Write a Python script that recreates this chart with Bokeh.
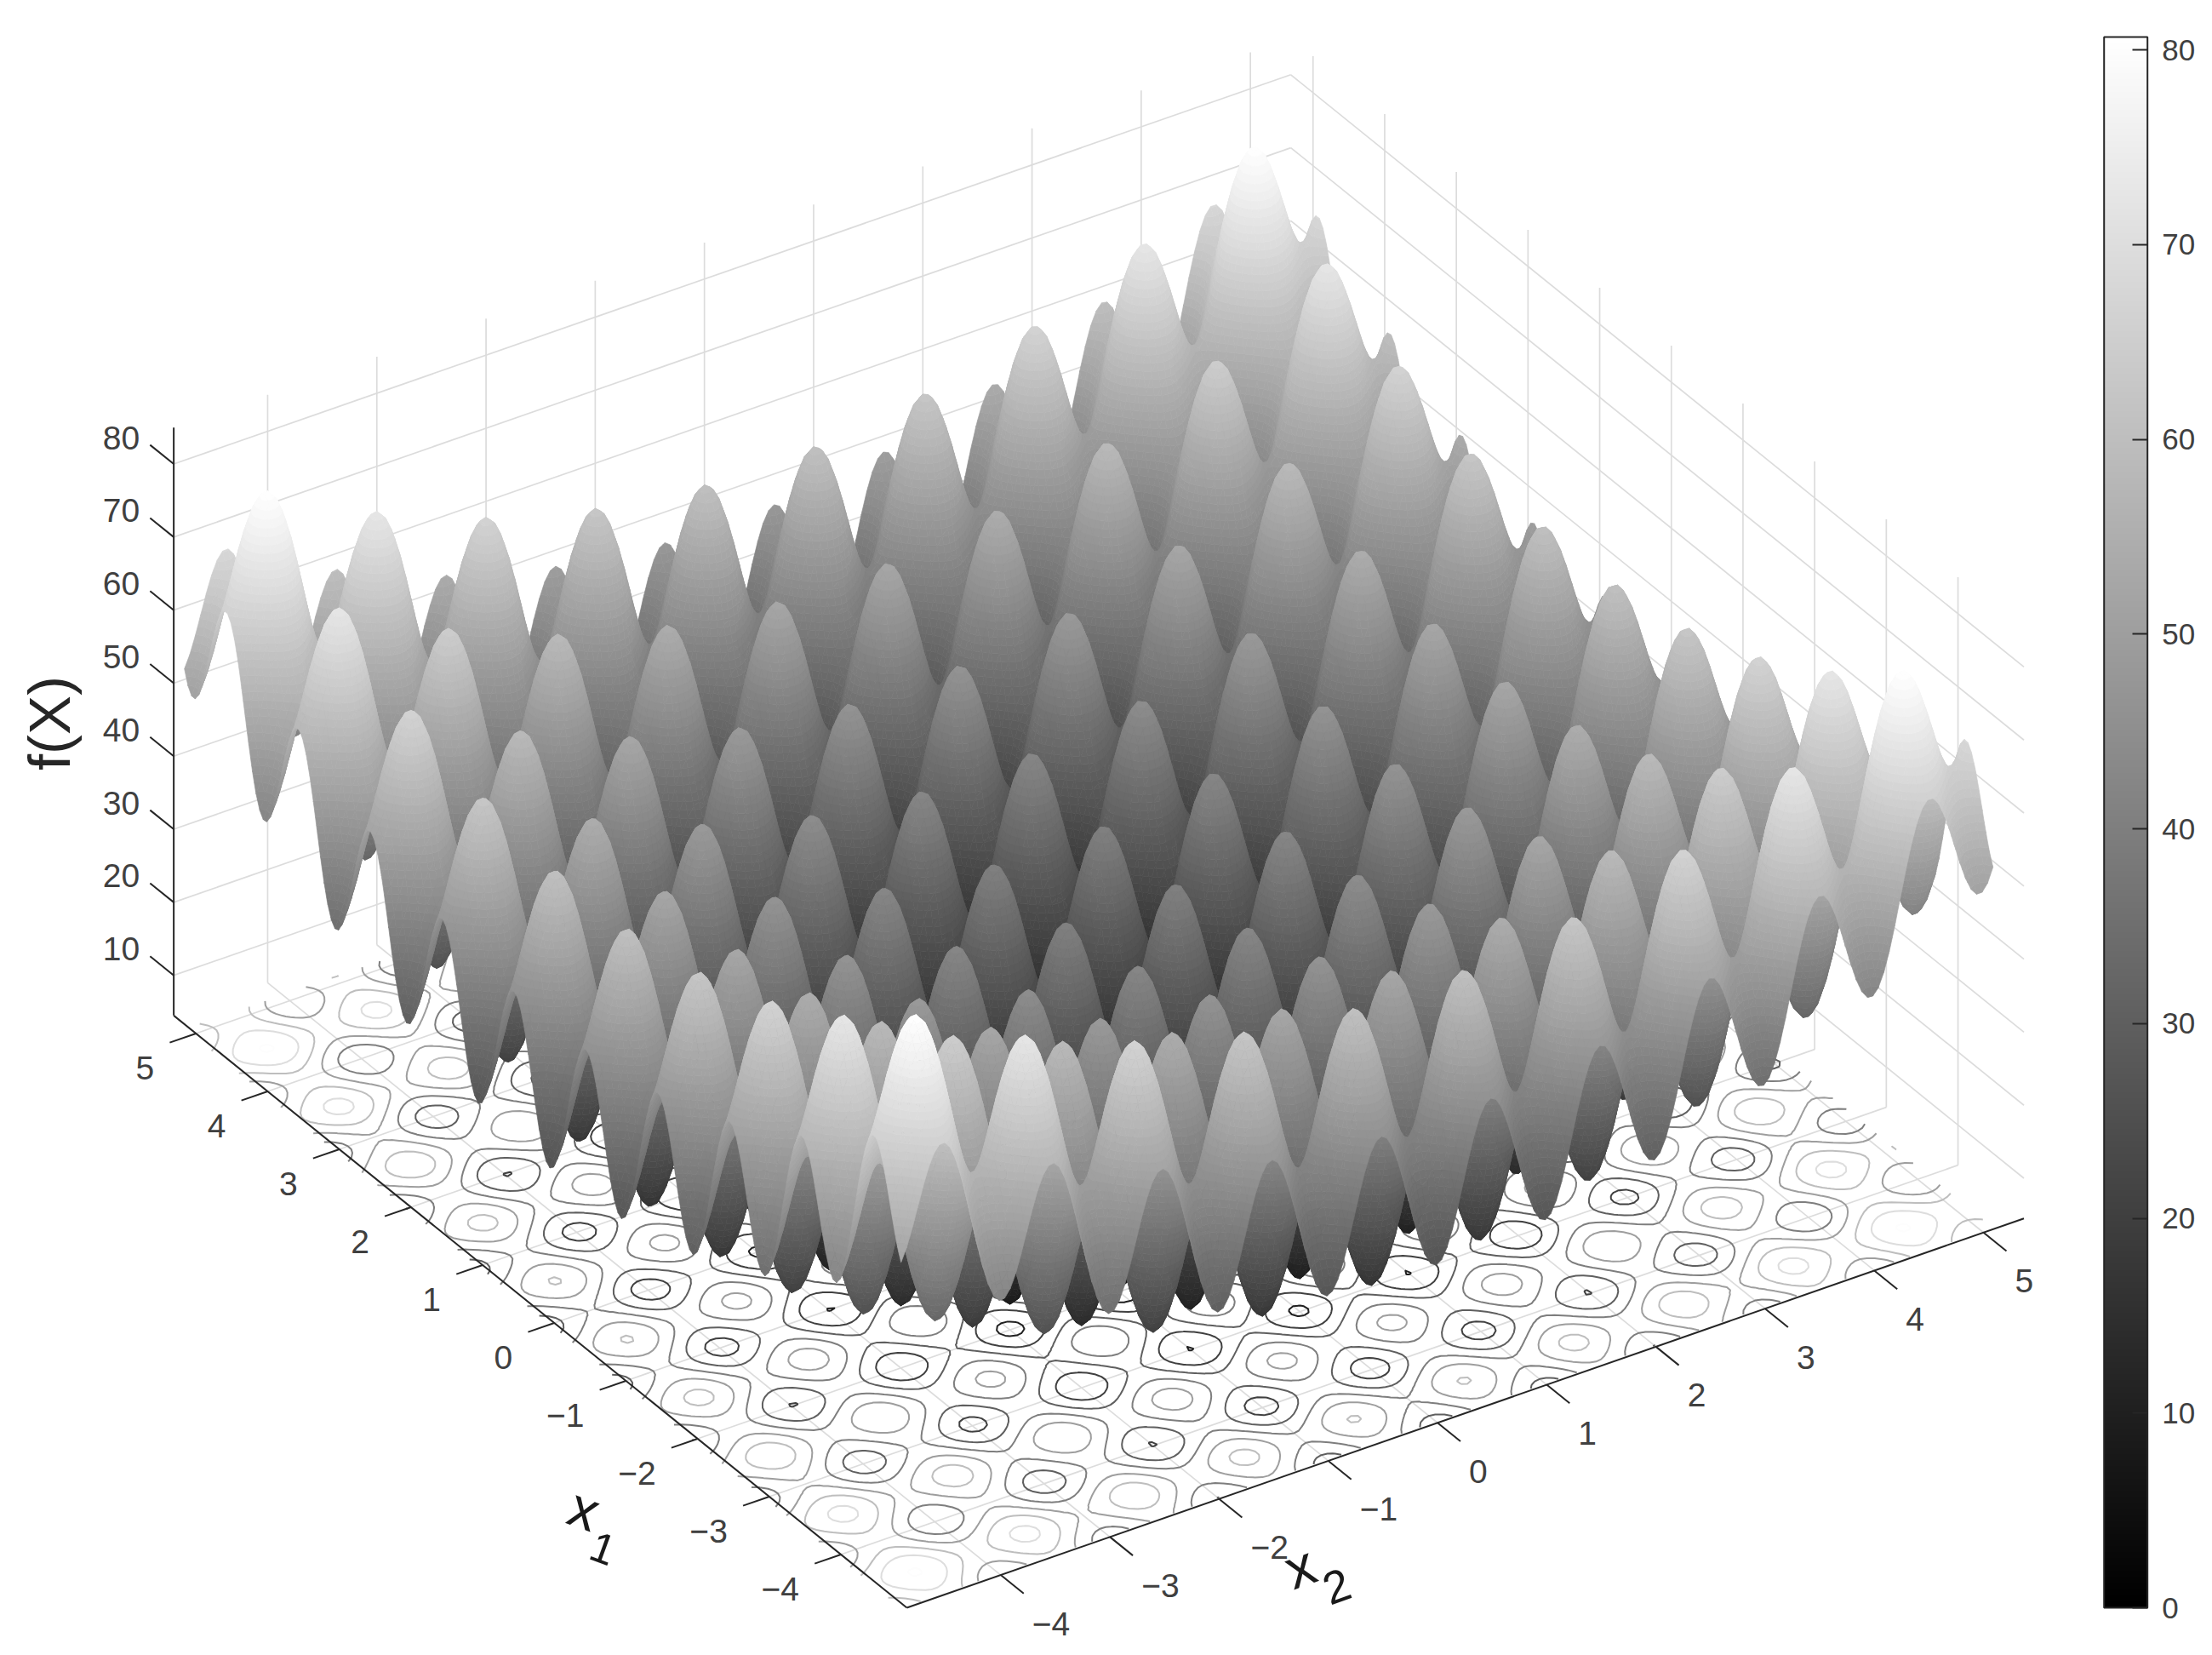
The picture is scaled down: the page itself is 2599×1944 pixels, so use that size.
from bokeh.plotting import figure
from bokeh.embed import file_html
from bokeh.resources import INLINE
from bokeh.core.properties import value
from bokeh.models import Range1d, ColumnDataSource, ColorBar, LinearColorMapper, FixedTicker
import numpy as np
from contourpy import contour_generator

# height of one axis' contribution to f(X), read as a profile at x = 0.00, 0.05, ... 5.10
profile_pos = [
 0.00,0.49,1.92,4.14,6.95,10.06,13.18,16.00,18.25,19.71,20.25,19.81,18.45,16.30,13.58,10.56,7.55,4.84,2.72,1.39,
 1.00,1.59,3.12,5.44,8.35,11.56,14.78,17.70,20.05,21.61,22.25,21.91,20.65,18.60,15.98,13.06,10.15,7.54,5.52,4.29,
 4.00,4.69,6.32,8.74,11.75,15.06,18.38,21.40,23.85,25.51,26.25,26.01,24.85,22.90,20.38,17.56,14.75,12.24,10.32,9.19,
 9.00,9.79,11.52,14.04,17.15,20.56,23.98,27.10,29.65,31.41,32.25,32.11,31.05,29.20,26.78,24.06,21.35,18.94,17.12,16.09,
 16.00,16.89,18.72,21.34,24.55,28.06,31.58,34.80,37.45,39.31,40.25,40.21,39.25,37.50,35.18,32.56,29.95,27.64,25.92,24.99,
 25.00,25.99,27.92]
x_start = -4.9
x_step = 0.05
x1_ticks = [-4,-3,-2,-1,0,1,2,3,4,5]
x2_ticks = [-4,-3,-2,-1,0,1,2,3,4,5]
z_ticks = [10,20,30,40,50,60,70,80]
cbar_ticks = [0,10,20,30,40,50,60,70,80]
contour_levels = [10.2,20.2,30,40,50,60,70,80]
x1_lim = (-4.92,5.31)
x2_lim = (-4.86,5.37)
z_lim = (4.5,85.0)
c_max = 80.66

FONT = value("Liberation Sans")
INK = "#262626"
TXT = "#404040"
GRID = "#dcdcdc"
W, H = 2599, 1944
BAND = 1.0

def proj(x1, x2, z):
    u = np.asarray(x1, float) - x1_lim[0]
    v = np.asarray(x2, float) - x2_lim[0]
    h = np.asarray(z, float) - z_lim[0]
    return 1065 - 84.2*u + 128.3*v, 1888 - 68.0*u - 44.7*v - 8.58*h

def gray_hex(z):
    g = np.clip(np.round(np.asarray(z)/c_max*255), 0, 255).astype(int)
    return ["#%02x%02x%02x" % (k, k, k) for k in g]

p = figure(width=W, height=H, x_range=Range1d(0, W), y_range=Range1d(H, 0),
           x_axis_type=None, y_axis_type=None, toolbar_location=None, output_backend="svg",
           min_border=0, outline_line_color=None, background_fill_color="white")

# walls and floor grid
gx, gy = [], []
def seg(a, b):
    sx, sy = proj([a[0], b[0]], [a[1], b[1]], [a[2], b[2]])
    gx.append(sx.tolist()); gy.append(sy.tolist())
x1a, x1b = x1_lim; x2a, x2b = x2_lim; za, zb = z_lim
for t in x1_ticks:
    seg((t, x2a, za), (t, x2b, za))
    seg((t, x2b, za), (t, x2b, zb))
for t in x2_ticks:
    seg((x1a, t, za), (x1b, t, za))
    seg((x1b, t, za), (x1b, t, zb))
for t in z_ticks:
    seg((x1b, x2a, t), (x1b, x2b, t))
    seg((x1b, x2b, t), (x1a, x2b, t))
p.multi_line(gx, gy, line_color=GRID, line_width=1.7)

# surface grid
g_pos = np.array(profile_pos)
g = np.concatenate([g_pos[1:99][::-1], g_pos])
axis = x_start + x_step*np.arange(len(g))
Z = g[:, None] + g[None, :]
A, B = np.meshgrid(axis, axis, indexing="ij")

# contours on the floor
cg = contour_generator(x=axis, y=axis, z=Z)
cx, cy, cc = [], [], []
for lev, col in zip(contour_levels, gray_hex(np.minimum(contour_levels, c_max))):
    for ln in cg.lines(lev):
        sx, sy = proj(ln[:, 1], ln[:, 0], np.full(len(ln), za))
        cx.append(np.round(sx, 1).tolist()); cy.append(np.round(sy, 1).tolist()); cc.append(col)
p.multi_line(cx, cy, line_color=cc, line_width=2.0)

# surface: all faces, farthest first
SX, SY = proj(A, B, Z)
n = len(axis)
faces = [(i, j) for i in range(n-2, -1, -1) for j in range(n-2, -1, -1)]

# keep only the faces that can be seen
ids = np.full((H, W), -1, dtype=np.int32)
def fill_tri(xs, ys, k):
    x0, x1 = int(max(np.floor(min(xs)), 0)), int(min(np.ceil(max(xs)), W-1))
    y0, y1 = int(max(np.floor(min(ys)), 0)), int(min(np.ceil(max(ys)), H-1))
    if x1 < x0 or y1 < y0:
        return
    Y, X = np.ogrid[y0:y1+1, x0:x1+1]
    s = (xs[1]-xs[0])*(ys[2]-ys[0]) - (ys[1]-ys[0])*(xs[2]-xs[0])
    if s == 0:
        return
    sg = 1 if s > 0 else -1
    m = ((xs[1]-xs[0])*(Y-ys[0]) - (ys[1]-ys[0])*(X-xs[0]))*sg >= 0
    m = m & (((xs[2]-xs[1])*(Y-ys[1]) - (ys[2]-ys[1])*(X-xs[1]))*sg >= 0)
    m = m & (((xs[0]-xs[2])*(Y-ys[2]) - (ys[0]-ys[2])*(X-xs[2]))*sg >= 0)
    ids[y0:y1+1, x0:x1+1][m] = k
for k, (i, j) in enumerate(faces):
    xs = [SX[i,j], SX[i+1,j], SX[i+1,j+1], SX[i,j+1]]
    ys = [SY[i,j], SY[i+1,j], SY[i+1,j+1], SY[i,j+1]]
    fill_tri([xs[0],xs[1],xs[2]], [ys[0],ys[1],ys[2]], k)
    fill_tri([xs[0],xs[2],xs[3]], [ys[0],ys[2],ys[3]], k)
seen = set(np.unique(ids).tolist()) - {-1}
keep = set()
for k in seen:
    i, j = faces[k]
    for di in (-1, 0, 1):
        for dj in (-1, 0, 1):
            if 0 <= i+di < n-1 and 0 <= j+dj < n-1:
                keep.add((i+di, j+dj))

# split every kept face into thin height bands so the grey runs smoothly
def clip(poly, lim, keep_above):
    out = []
    for a, b in zip(poly, poly[1:]+poly[:1]):
        ia = a[2] >= lim if keep_above else a[2] <= lim
        ib = b[2] >= lim if keep_above else b[2] <= lim
        if ia:
            out.append(a)
        if ia != ib:
            t = (lim-a[2])/(b[2]-a[2])
            out.append((a[0]+t*(b[0]-a[0]), a[1]+t*(b[1]-a[1]), lim))
    return out

qx, qy, qv = [], [], []
for (i, j) in faces:
    if (i, j) not in keep:
        continue
    poly = [(SX[a,b], SY[a,b], Z[a,b]) for a, b in ((i,j),(i+1,j),(i+1,j+1),(i,j+1))]
    zs = [q[2] for q in poly]
    k0, k1 = int(np.floor(min(zs)/BAND)), int(np.ceil(max(zs)/BAND))
    for k in range(k0, k1):
        lo, hi = k*BAND, (k+1)*BAND
        c = clip(poly, lo, True)
        if len(c) >= 3:
            c = clip(c, hi, False)
        if len(c) >= 3:
            qx.append([round(float(q[0]),1) for q in c])
            qy.append([round(float(q[1]),1) for q in c])
            qv.append((lo+hi)/2)
cols = gray_hex(qv)
p.patches("x", "y", source=ColumnDataSource(dict(x=qx, y=qy, c=cols)),
          fill_color="c", line_color="c", line_width=0.7)

# axes
ax_x, ax_y = [], []
def aseg(a, b):
    sx, sy = proj([a[0], b[0]], [a[1], b[1]], [a[2], b[2]])
    ax_x.append(sx.tolist()); ax_y.append(sy.tolist())
aseg((x1b, x2a, za), (x1b, x2a, zb))
aseg((x1b, x2a, za), (x1a, x2a, za))
aseg((x1a, x2a, za), (x1a, x2b, za))
for t in x1_ticks:
    aseg((t, x2a, za), (t, x2a-0.24, za))
for t in x2_ticks:
    aseg((x1a, t, za), (x1a-0.32, t, za))
for t in z_ticks:
    aseg((x1b, x2a, t), (x1b+0.33, x2a, t))
p.multi_line(ax_x, ax_y, line_color=INK, line_width=2.0)

def labels(lx, ly, txt, align, size="39px", color=TXT):
    p.text(lx, ly, text=txt, text_font=FONT, text_font_size=size, text_color=color,
           text_align=align, text_baseline="middle")

def fmt(t):
    return str(t).replace("-", "\u2212")

sx, sy = proj(np.array(x1_ticks), x2a, za)
labels((sx-49).tolist(), (sy+41).tolist(), [fmt(t) for t in x1_ticks], "right")
sx, sy = proj(x1a, np.array(x2_ticks), za)
labels((sx+37).tolist(), (sy+57).tolist(), [fmt(t) for t in x2_ticks], "left")
sx, sy = proj(x1b, x2a, np.array(z_ticks))
labels((sx-40).tolist(), (sy-31).tolist(), [str(t) for t in z_ticks], "right")

# axis titles
p.text([58], [849], text=["f(X)"], angle=np.pi/2, text_font=FONT, text_font_size="69px",
       text_color=INK, text_align="center", text_baseline="alphabetic")
def title(x, y, s, deg, size):
    p.text([x], [y], text=[s], angle=np.deg2rad(deg), text_font=FONT, text_font_size=size,
           text_color="#1a1a1a", text_align="center", text_baseline="middle")
title(686, 1772, "x", -20, "66px")
title(708, 1818, "1", -20, "50px")
title(1527, 1840, "x", 20, "66px")
title(1570, 1863, "2", 20, "54px")

# colour bar
mapper = LinearColorMapper(palette=["#%02x%02x%02x" % (k,k,k) for k in range(256)], low=0, high=c_max)
cb = ColorBar(color_mapper=mapper, ticker=FixedTicker(ticks=cbar_ticks), width=51, height=1845,
              location=(2471.7, H-1888), padding=0, margin=0, label_standoff=17,
              major_label_text_font="Liberation Sans", major_label_text_font_size="35px",
              major_label_text_color=TXT, major_tick_in=18, major_tick_line_color=INK,
              major_tick_line_width=2, minor_tick_line_color=None,
              bar_line_color=INK, bar_line_width=2, border_line_color=None,
              background_fill_color=None)
p.add_layout(cb, "center")

open("out.html", "w").write(file_html(p, INLINE))
